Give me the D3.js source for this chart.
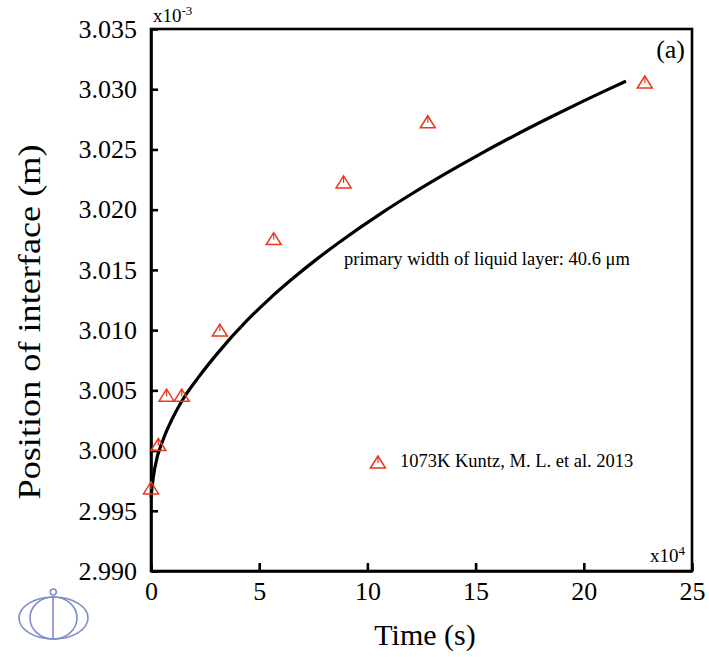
<!DOCTYPE html>
<html>
<head>
<meta charset="utf-8">
<script src="https://cdn.jsdelivr.net/npm/d3@7/dist/d3.min.js"></script>
<style>
  html, body { margin: 0; padding: 0; background: #fff; }
  svg { display: block; }
  text { font-family: "Liberation Serif", "Times New Roman", serif; fill: #000; }
</style>
</head>
<body>
<svg id="chart" width="709" height="657"></svg>
<script>
// Time in units of 1e4 s, interface position in units of 1e-3 m
const expTime = [0, 0.34, 0.72, 1.42, 3.18, 5.67, 8.90, 12.79, 22.82];
const expPos  = [2.9969, 3.0005, 3.0046, 3.0046, 3.0100, 3.0176, 3.0223, 3.0273, 3.0306];

// Simulated interface position curve
const simTime = [0, 0.05, 0.18, 0.56, 1.0, 1.49, 2.2, 3.10, 4.45, 5.5, 6.56, 7.6, 8.72,
                 10.72, 12.0, 13.79, 15.0, 16.71, 18.5, 20.0, 21.0, 21.95];
const simPos  = [2.99610, 2.99700, 2.99860, 3.00090, 3.00270, 3.00430, 3.00610, 3.00813,
                 3.01082, 3.01264, 3.01430, 3.01581, 3.01732, 3.01980, 3.02126, 3.02318,
                 3.02441, 3.02607, 3.02771, 3.02903, 3.02988, 3.03067];

const xTicks = [0, 5, 10, 15, 20, 25];
const yTicks = [2.990, 2.995, 3.000, 3.005, 3.010, 3.015, 3.020, 3.025, 3.030, 3.035];

const legendLabel = "1073K Kuntz, M. L. et al. 2013";
const noteLabel = "primary width of liquid layer: 40.6 \u03bcm";

const serif = '"Liberation Serif", "Times New Roman", serif';
const svg = d3.select("#chart");
const plotL = 151, plotR = 692, plotT = 29, plotB = 571;

const x = d3.scaleLinear().domain([0, 25]).range([plotL, plotR]);
const y = d3.scaleLinear().domain([2.990, 3.035]).range([plotB, plotT]);

const red = "#e8391d";

// Frame
svg.append("rect")
  .attr("x", plotL).attr("y", plotT)
  .attr("width", plotR - plotL).attr("height", plotB - plotT)
  .attr("fill", "none").attr("stroke", "#000").attr("stroke-width", 2.6);

// Axes with inward ticks
const yAxis = svg.append("g").attr("transform", `translate(${plotL},0)`)
  .call(d3.axisLeft(y).tickValues(yTicks).tickFormat(d3.format(".3f")).tickSizeInner(-7).tickSizeOuter(0).tickPadding(14));
const xAxis = svg.append("g").attr("transform", `translate(0,${plotB})`)
  .call(d3.axisBottom(x).tickValues(xTicks).tickFormat(d3.format("d")).tickSizeInner(-8).tickSizeOuter(0).tickPadding(12));

[yAxis, xAxis].forEach(g => {
  g.attr("font-family", null).attr("font-size", null);
  g.select(".domain").attr("stroke", "#000").attr("stroke-width", 2.6);
  g.selectAll(".tick line").attr("stroke", "#000").attr("stroke-width", 2.6);
  g.selectAll(".tick text").style("font-family", serif)
    .style("font-size", "26px").attr("fill", "#000");
});
xAxis.selectAll(".tick text").attr("dy", "0.71em").attr("y", 11);

// Exponent labels
const e1 = svg.append("text").attr("x", 153).attr("y", 22).style("font-size", "19px");
e1.append("tspan").text("x10");
e1.append("tspan").attr("dy", -7).style("font-size", "13px").text("-3");
const e2 = svg.append("text").attr("x", 685).attr("y", 562).style("font-size", "19px").attr("text-anchor", "end");
e2.append("tspan").text("x10");
e2.append("tspan").attr("dy", -7).style("font-size", "13px").text("4");

// Panel label
svg.append("text").attr("x", 685).attr("y", 58).attr("text-anchor", "end")
  .style("font-size", "26px").text("(a)");

// Axis titles
svg.append("text").attr("x", 425).attr("y", 645).attr("text-anchor", "middle")
  .style("font-size", "30px").text("Time (s)");
svg.append("text")
  .attr("transform", "translate(40,322) rotate(-90)")
  .attr("text-anchor", "middle").style("font-size", "31px")
  .attr("textLength", 355).attr("lengthAdjust", "spacingAndGlyphs")
  .text("Position of interface (m)");

// Simulated curve
const line = d3.line().x((d, i) => x(simTime[i])).y(d => y(d)).curve(d3.curveMonotoneX);
svg.append("path").datum(simPos)
  .attr("d", line).attr("fill", "none").attr("stroke", "#000").attr("stroke-width", 3.2)
  .attr("stroke-linejoin", "round").attr("stroke-linecap", "butt");

// Triangle marker
function marker(g, cx, cy) {
  const w = 15, h = 12;
  g.append("path")
    .attr("d", `M${cx - w / 2},${cy + h / 2} L${cx},${cy - h / 2} L${cx + w / 2},${cy + h / 2} Z`)
    .attr("fill", "none").attr("stroke", red).attr("stroke-width", 1.5);
  g.append("line")
    .attr("x1", cx).attr("x2", cx).attr("y1", cy - h / 2 + 1).attr("y2", cy + 1)
    .attr("stroke", red).attr("stroke-width", 1.2);
}
const pts = svg.append("g");
expTime.forEach((t, i) => marker(pts, x(t), y(expPos[i])));

// Legend
marker(svg.append("g"), 378, 462);
svg.append("text").attr("x", 400).attr("y", 467).style("font-size", "18.5px").text(legendLabel);

// Annotation
svg.append("text").attr("x", 344).attr("y", 265).style("font-size", "18.5px").text(noteLabel);

// Emblem
const logo = svg.append("g").attr("fill", "none").attr("stroke", "#7d8ec6").attr("stroke-width", 1.6);
logo.append("ellipse").attr("cx", 53.5).attr("cy", 618).attr("rx", 34.5).attr("ry", 21);
logo.append("ellipse").attr("cx", 53.5).attr("cy", 618).attr("rx", 23.5).attr("ry", 21);
logo.append("line").attr("x1", 53).attr("x2", 53).attr("y1", 596).attr("y2", 639);
logo.append("circle").attr("cx", 53.3).attr("cy", 592).attr("r", 3);
</script>
</body>
</html>
